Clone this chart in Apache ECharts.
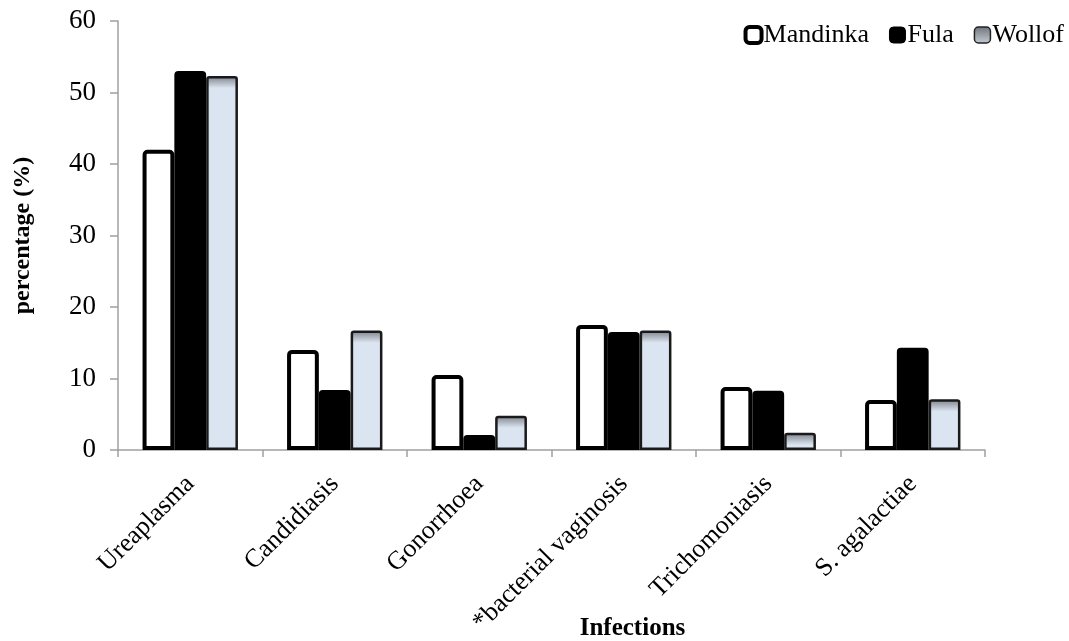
<!DOCTYPE html>
<html>
<head>
<meta charset="utf-8">
<script src="https://cdn.jsdelivr.net/npm/echarts@6/dist/echarts.min.js"></script>
<style>
  html, body { margin: 0; padding: 0; background: #fff; }
  #main { width: 1069px; height: 641px; }
</style>
</head>
<body>
<div id="main"></div>
<script>
// 数据
const categories = ['Ureaplasma', 'Candidiasis', 'Gonorrhoea', '*bacterial vaginosis', 'Trichomoniasis', 'S. agalactiae'];
const mandinka = [42.0, 14.0, 10.5, 17.5, 8.8, 7.0];
const fula = [53.0, 8.4, 2.1, 16.5, 8.3, 14.3];
const wollof = [52.3, 16.7, 4.8, 16.7, 2.4, 7.1];
const yTicks = [0, 10, 20, 30, 40, 50, 60];

const font = '"Liberation Serif", "Times New Roman", serif';

// Wollof 柱子顶部的灰色渐变，只占顶部约 12px
function wollofStyle(v) {
  const off = Math.min(0.85, 1.7 / v);
  return {
    color: new echarts.graphic.LinearGradient(0, 0, 0, 1, [
      { offset: 0, color: '#7c8088' },
      { offset: off, color: '#dbe5f1' },
      { offset: 1, color: '#dbe5f1' },
    ]),
    borderColor: '#1a1a1a',
    borderWidth: 2.5,
    borderRadius: [2, 2, 0, 0],
  };
}

const option = {
  animation: false,
  grid: { left: 118, right: 84, top: 21, bottom: 191, outerBoundsMode: 'none' },
  legend: {
    top: 17,
    right: 0,
    itemWidth: 16,
    itemHeight: 16,
    itemGap: 20,
    textStyle: { fontFamily: font, fontSize: 26, color: '#000', padding: [0, 0, 0, -3] },
    data: [
      { name: 'Mandinka', itemStyle: { color: '#fff', borderColor: '#000', borderWidth: 4 } },
      { name: 'Fula', itemStyle: { color: '#000', borderColor: '#000', borderWidth: 1, borderRadius: 3 } },
      {
        name: 'Wollof',
        itemStyle: {
          color: new echarts.graphic.LinearGradient(0, 0, 0, 1, [
            { offset: 0, color: '#6f747c' },
            { offset: 1, color: '#c6ccd4' },
          ]),
          borderColor: '#222',
          borderWidth: 1.5,
        },
      },
    ],
  },
  xAxis: {
    type: 'category',
    data: categories,
    name: 'Infections',
    nameLocation: 'middle',
    nameGap: 166,
    nameMoveOverlap: false,
    nameTextStyle: { fontFamily: font, fontSize: 25, fontWeight: 'bold', color: '#000', padding: [0, 0, 0, 162] },
    axisLine: { lineStyle: { color: '#a0a0a0', width: 1.5 } },
    axisTick: { show: true, length: 7, lineStyle: { color: '#a0a0a0', width: 1.5 } },
    axisLabel: { rotate: 45, fontFamily: font, fontSize: 26, color: '#000', margin: 30 },
  },
  yAxis: {
    type: 'value',
    min: yTicks[0],
    max: yTicks[yTicks.length - 1],
    interval: 10,
    name: 'percentage (%)',
    nameLocation: 'middle',
    nameGap: 83,
    nameMoveOverlap: false,
    nameTextStyle: { fontFamily: font, fontSize: 24, fontWeight: 'bold', color: '#000' },
    axisLine: { show: true, lineStyle: { color: '#a0a0a0', width: 1.5 } },
    axisTick: { show: true, length: 8, lineStyle: { color: '#a0a0a0', width: 1.5 } },
    axisLabel: { fontFamily: font, fontSize: 27, color: '#000', margin: 22 },
    splitLine: { show: false },
  },
  series: [
    {
      name: 'Mandinka',
      type: 'bar',
      data: mandinka,
      barGap: '0%',
      barCategoryGap: '34%',
      itemStyle: { color: '#fff', borderColor: '#000', borderWidth: 4, borderRadius: [3, 3, 0, 0] },
    },
    {
      name: 'Fula',
      type: 'bar',
      data: fula,
      barGap: '0%',
      barCategoryGap: '34%',
      itemStyle: { color: '#000', borderColor: '#000', borderWidth: 2, borderRadius: [3, 3, 0, 0] },
    },
    {
      name: 'Wollof',
      type: 'bar',
      data: wollof.map(v => ({ value: v, itemStyle: wollofStyle(v) })),
      barGap: '0%',
      barCategoryGap: '34%',
    },
  ],
};

const myChart = echarts.init(document.getElementById('main'));
myChart.setOption(option);
</script>
</body>
</html>
